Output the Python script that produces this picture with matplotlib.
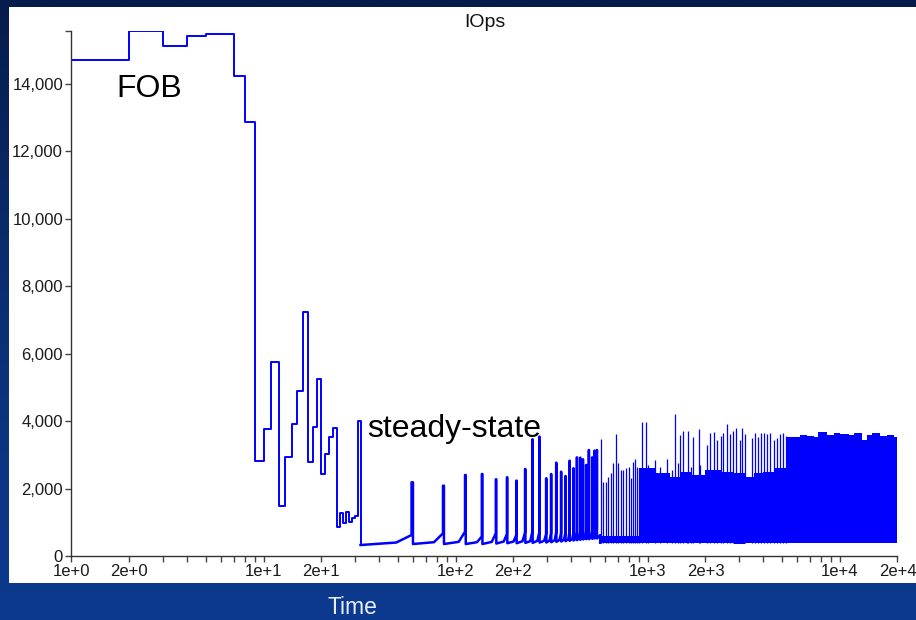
import numpy as np
import matplotlib.pyplot as plt
from matplotlib.patches import Rectangle
from matplotlib.colors import LinearSegmentedColormap
from matplotlib.ticker import FixedLocator, NullFormatter

plt.rcParams['font.family'] = ['Liberation Sans', 'DejaVu Sans']

#start-up phase, one sample per second (FOB burst then the fall)
early_t = list(range(1, 32))
early_iops = [14720, 15563, 15142, 15433, 15483, 15490, 14246, 12873,
              2830, 3770, 5763, 1492, 2927, 3915, 4903, 7237, 2788, 3826,
              5241, 2423, 3025, 3520, 3806, 851, 1266, 970, 1296, 1017,
              1118, 1186, 4004]

#low plateau with periodic spikes
ss_start_t = 32
ss_start_iops = 326
spike_t = [59, 86, 112, 137, 162, 185, 207, 230, 251, 273, 296, 314, 334,
           354, 373, 392, 411, 428, 445, 460, 478, 494, 514, 528, 544]
spike_peak = [2186, 2086, 2403, 2432, 2275, 2334, 2235, 2580, 3461, 3540,
              2304, 2432, 2768, 2500, 2373, 2827, 2601, 2926, 2916, 2868,
              2700, 3144, 2926, 3124, 3144]
spike_pre = [623, 673, 720, 580, 673, 650, 620, 700, 720, 700, 650, 680,
             700, 680, 700, 720, 700, 720, 740, 720, 740, 760, 760, 780, 800]
spike_mid = [400, 410, 420, 410, 420, 430, 430, 440, 440, 450, 450, 460,
             470, 480, 490, 500, 510, 520, 530, 540, 550, 560, 570, 580, 590]
spike_post = [356, 356, 356, 356, 370, 380, 380, 390, 390, 400, 400, 410,
              420, 430, 440, 450, 460, 470, 480, 490, 500, 500, 510, 520, 520]

#dense region: spikes that stick out of the band
dense_t = [570, 589, 608, 625, 643, 664, 685, 704, 725, 748, 773, 798, 820,
           844, 864, 885, 906, 933, 982, 1010, 1094, 1161, 1259, 1336, 1390,
           1447, 1476, 1535, 1601, 1618, 1679, 1732, 1854, 1877, 2034, 2117,
           2203, 2292, 2405, 2483, 2585, 2690, 2778, 2893, 3009, 3106, 3221,
           3488, 3630, 3777, 3888, 4013, 4178, 4347, 4523, 4706, 4897, 5058,
           5262]
dense_peak = [3461, 2204, 2204, 2352, 2471, 2749, 3609, 2749, 2551, 2551,
              2601, 2650, 2304, 2797, 2868, 2650, 2601, 3984, 3984, 2700,
              2848, 2650, 2868, 2551, 4212, 2750, 3589, 3717, 2300, 3717,
              2650, 3540, 3757, 2700, 3292, 3638, 3668, 3441, 3560, 3638,
              3915, 3620, 3700, 3786, 3440, 3786, 3620, 3500, 3640, 3520,
              3660, 3640, 3620, 3640, 3440, 3500, 3620, 3640, 3560]

#dense region: envelope of the solid band
band_t = [566, 906, 1100, 1300, 1500, 1700, 2000, 2400, 2800, 3200, 3600,
          4000, 4600, 5300, 6223, 6745, 7306, 7756, 8580, 9286, 10070,
          11130, 11810, 13050, 13870, 14720, 16260, 17620, 19070, 20000]
band_lo = [395, 390, 385, 390, 392, 388, 390, 380, 360, 390, 392, 388, 390,
           392, 390, 388, 392, 390, 388, 392, 390, 392, 388, 390, 392, 390,
           388, 392, 390, 390]
band_hi = [600, 2600, 2450, 2350, 2500, 2400, 2550, 2500, 2450, 2350, 2450,
           2500, 2600, 3540, 3590, 3560, 3540, 3690, 3590, 3640, 3620, 3600,
           3640, 3440, 3590, 3660, 3560, 3590, 3540, 3480]

xticks = [1, 2, 10, 20, 100, 200, 1000, 2000, 10000, 20000]
xtick_labels = ['1e+0', '2e+0', '1e+1', '2e+1', '1e+2', '2e+2', '1e+3', '2e+3', '1e+4', '2e+4']
yticks = [0, 2000, 4000, 6000, 8000, 10000, 12000, 14000]

blue = '#0000ff'

fig = plt.figure(figsize=(9.16, 6.2), dpi=100)

#navy backdrop + white panel
bg = fig.add_axes([0, 0, 1, 1], zorder=-10)
bg.axis('off')
grad = np.linspace(0, 1, 256).reshape(-1, 1)
cmap = LinearSegmentedColormap.from_list('bg', ['#0d3a8f', '#0b2f75', '#061c4c'])
bg.imshow(grad, aspect='auto', cmap=cmap, origin='lower', extent=[0, 1, 0, 1])
bg.add_patch(Rectangle((0.0093, 0.0592), 1.0, 0.930, transform=bg.transAxes,
                       facecolor='white', edgecolor='none'))
bg.set_xlim(0, 1); bg.set_ylim(0, 1)

ax = fig.add_axes([0.078, 0.1032, 0.9798 - 0.078, 0.9495 - 0.1032])
ax.set_facecolor('none')

#early part as steps
ax.plot(early_t + [ss_start_t], early_iops + [ss_start_iops],
        drawstyle='steps-post', color=blue, lw=1.4)

#plateau: slow creep, late rise, spike, fall back
xs = [ss_start_t]; ys = [ss_start_iops]
prev = ss_start_t
for t, pk, pre, mid, post in zip(spike_t, spike_peak, spike_pre, spike_mid, spike_post):
    tm = prev * (t / prev) ** 0.7
    xs += [tm, t, t, t + 1, t + 1]
    ys += [mid, pre, pk, pk, post]
    prev = t + 1
xs += [band_t[0], band_t[0]]
ys += [620, band_lo[0]]
ax.plot(xs, ys, color=blue, lw=1.8)

#dense part
ax.fill_between(band_t, band_lo, band_hi, step='post', color=blue, lw=0)
ax.vlines(dense_t, 400, dense_peak, color=blue, lw=0.9)

ax.set_xscale('log')
ax.set_xlim(1, 20000)
ax.set_ylim(0, max(early_iops))

ax.xaxis.set_major_locator(FixedLocator(xticks))
ax.set_xticklabels(xtick_labels)
minors = [m * 10 ** k for k in range(0, 4) for m in range(3, 10)]
ax.xaxis.set_minor_locator(FixedLocator(minors))
ax.xaxis.set_minor_formatter(NullFormatter())

ax.set_yticks(yticks + [max(early_iops)])
ax.set_yticklabels(['{:,}'.format(v) for v in yticks] + [''])

for s in ['top', 'right']:
    ax.spines[s].set_visible(False)
for s in ['left', 'bottom']:
    ax.spines[s].set_color('#333333')
    ax.spines[s].set_linewidth(1)
ax.tick_params(which='both', direction='out', length=4, width=1, color='#444444',
               labelsize=12, labelcolor='#1a1a1a', pad=2)

ax.set_title('IOps', fontsize=14, pad=3, color='#111111')
ax.text(1.72, 13606, 'FOB', fontsize=23, va='baseline', color='black')
ax.text(34.6, 3530, 'steady-state', fontsize=23, va='baseline', color='black')

fig.text(352.5 / 916, 1 - 607 / 620, 'Time', color='#e8eef8', fontsize=16.5,
         ha='center', va='center')

plt.savefig('out.png', dpi=100)
